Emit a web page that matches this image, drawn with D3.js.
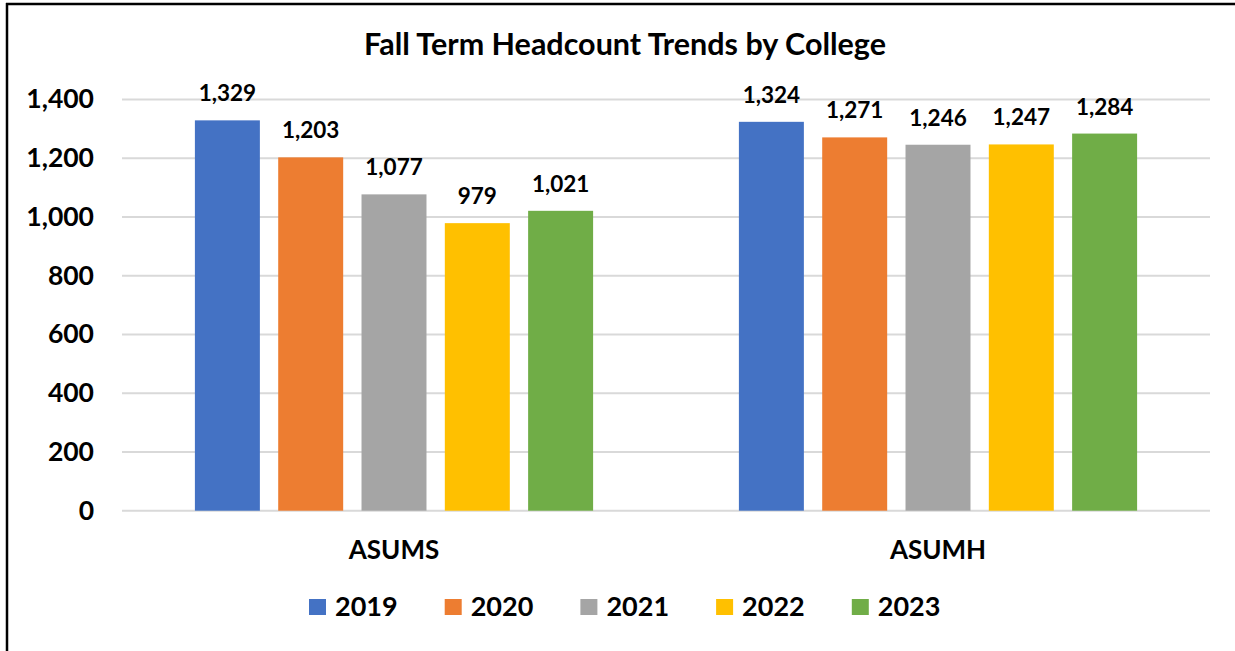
<!DOCTYPE html>
<html>
<head>
<meta charset="utf-8">
<script src="https://cdn.jsdelivr.net/npm/d3@7"></script>
<style>
  body { margin: 0; background: #fff; }
  svg text { font-family: Lato, "Open Sans", sans-serif; fill: #000; }
</style>
</head>
<body>
<div id="chart"></div>
<script>
// data
const colleges = ["ASUMS", "ASUMH"]
const years = ["2019", "2020", "2021", "2022", "2023"]
const asums = [1329, 1203, 1077, 979, 1021]
const asumh = [1324, 1271, 1246, 1247, 1284]
const yTicks = [0, 200, 400, 600, 800, 1000, 1200, 1400]
const colors = ["#4472C4", "#ED7D31", "#A5A5A5", "#FFC000", "#70AD47"]

const seriesByCollege = { ASUMS: asums, ASUMH: asumh }

const width = 1235, height = 651
const plot = { left: 122, right: 1210, top: 99.5, bottom: 510.7 }

const svg = d3.select("#chart").append("svg")
    .attr("width", width)
    .attr("height", height)

// frame (only top + left edges are visible in the crop)
svg.append("line").attr("x1", 6).attr("x2", width).attr("y1", 4).attr("y2", 4)
    .attr("stroke", "#000").attr("stroke-width", 2.5)
svg.append("line").attr("x1", 7).attr("x2", 7).attr("y1", 3).attr("y2", height)
    .attr("stroke", "#000").attr("stroke-width", 2.5)

svg.append("text")
    .attr("x", 625).attr("y", 55)
    .attr("text-anchor", "middle")
    .style("font-size", "30.5px")
    .style("font-weight", 700)
    .text("Fall Term Headcount Trends by College")

const y = d3.scaleLinear().domain([0, 1400]).range([plot.bottom, plot.top])

const x0 = d3.scaleBand().domain(colleges).range([plot.left, plot.right])
const x1 = d3.scaleBand().domain(years)
    .range([0, x0.bandwidth()])
    .paddingInner(0.22)
    .paddingOuter(0.875)

// gridlines
svg.append("g").selectAll("line")
    .data(yTicks)
    .join("line")
    .attr("x1", plot.left).attr("x2", plot.right)
    .attr("y1", d => y(d)).attr("y2", d => y(d))
    .attr("stroke", "#D9D9D9")
    .attr("stroke-width", 2)

// y axis labels
const yAxis = svg.append("g")
    .attr("transform", `translate(94,0)`)
    .call(d3.axisLeft(y).tickValues(yTicks).tickSize(0).tickPadding(0).tickFormat(d3.format(",")))
yAxis.select(".domain").remove()
yAxis.selectAll("text")
    .style("font-size", "26.5px")
    .style("font-weight", 700)
    .style("font-family", "Lato, sans-serif")
    .attr("fill", "#000")

// bars
const groups = svg.append("g").selectAll("g")
    .data(colleges)
    .join("g")
    .attr("transform", d => `translate(${x0(d)},0)`)

groups.selectAll("rect")
    .data(c => seriesByCollege[c].map((v, i) => ({ year: years[i], value: v, i })))
    .join("rect")
    .attr("x", d => x1(d.year))
    .attr("width", x1.bandwidth())
    .attr("y", d => y(d.value))
    .attr("height", d => y(0) - y(d.value))
    .attr("fill", d => colors[d.i])

groups.selectAll("text.val")
    .data(c => seriesByCollege[c].map((v, i) => ({ year: years[i], value: v })))
    .join("text")
    .attr("class", "val")
    .attr("x", d => x1(d.year) + x1.bandwidth() / 2)
    .attr("y", d => y(d.value) - 19)
    .attr("text-anchor", "middle")
    .style("font-size", "22.5px")
    .style("font-weight", 700)
    .text(d => d3.format(",")(d.value))

// category labels
svg.append("g").selectAll("text")
    .data(colleges)
    .join("text")
    .attr("x", d => x0(d) + x0.bandwidth() / 2)
    .attr("y", 559)
    .attr("text-anchor", "middle")
    .style("font-size", "26px")
    .style("font-weight", 700)
    .text(d => d)

// legend
const legend = svg.append("g").attr("transform", "translate(309,599)")
const item = legend.selectAll("g")
    .data(years)
    .join("g")
    .attr("transform", (d, i) => `translate(${i * 135.7},0)`)
item.append("rect")
    .attr("width", 17).attr("height", 16)
    .attr("fill", (d, i) => colors[i])
item.append("text")
    .attr("x", 26).attr("y", 17)
    .style("font-size", "27px")
    .style("font-weight", 700)
    .text(d => d)
</script>
</body>
</html>
